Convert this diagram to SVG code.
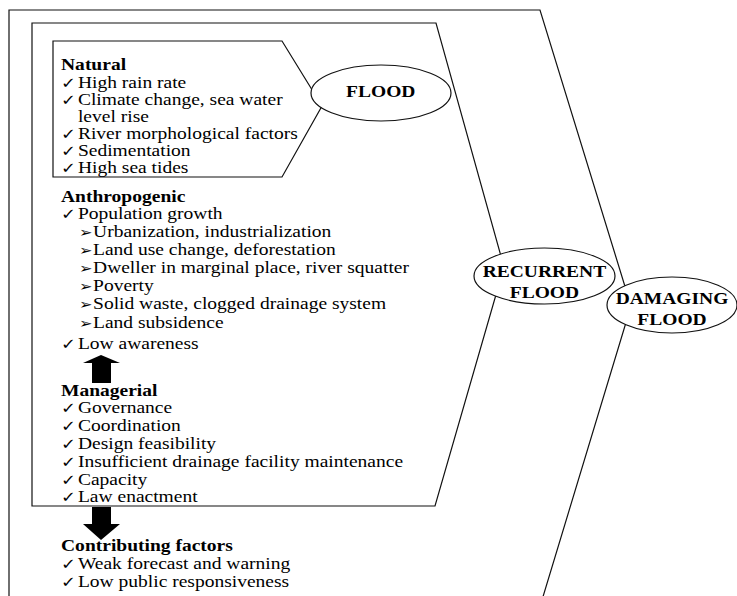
<svg xmlns="http://www.w3.org/2000/svg" width="737" height="596" viewBox="0 0 737 596">
<style>
.ln{fill:none;stroke:#111;stroke-width:1.2}
.el{fill:#fff;stroke:#111;stroke-width:1.2}
text{font-family:"Liberation Serif","Times New Roman",serif;font-size:16.4px;fill:#000}
.b{font-weight:bold}
.ck{font-family:"DejaVu Sans",sans-serif;font-size:15px}
.ar{font-family:"DejaVu Sans",sans-serif;font-size:13.5px}
.c{text-anchor:middle;font-weight:bold}
</style>
<rect width="737" height="596" fill="#fff"/>
<g id="connectors">
  <polyline id="outer" class="ln" points="9,600 9,10 540,10 631,306 542,600"/>
  <polygon id="inner" class="ln" points="32,23 436,23 504,267 435,506 32,506"/>
  <polygon id="natural-box" class="ln" fill="#fff" points="53,41 282,41 322,106 282,177 53,177"/>
  <polygon id="arrow-up" fill="#000" points="101,355 120,363 111,363 111,383 92,383 92,363 83,363"/>
  <polygon id="arrow-down" fill="#000" points="92,507 111,507 111,524 120,524 101,540 83,524 92,524"/>
</g>
<g id="flood">
  <ellipse class="el" cx="381" cy="93" rx="70" ry="28"/>
  <g transform="scale(1.19 1)"><text class="c" x="320" y="97">FLOOD</text></g>
</g>
<g id="recurrent-flood">
  <ellipse class="el" cx="544.5" cy="276" rx="70.5" ry="28"/>
  <g transform="scale(1.19 1)"><text class="c" x="457.5" y="277">RECURRENT</text><text class="c" x="457.5" y="298">FLOOD</text></g>
</g>
<g id="damaging-flood">
  <ellipse class="el" cx="672" cy="305" rx="65" ry="28"/>
  <g transform="scale(1.19 1)"><text class="c" x="564.7" y="304">DAMAGING</text><text class="c" x="564.7" y="325">FLOOD</text></g>
</g>
<g id="natural" transform="scale(1.19 1)">
  <text class="b" x="51.3" y="70">Natural</text>
  <text class="ck" x="51.3" y="88">✓</text><text x="65.5" y="88">High rain rate</text>
  <text class="ck" x="51.3" y="105">✓</text><text x="65.5" y="105">Climate change, sea water</text>
  <text x="65.5" y="122">level rise</text>
  <text class="ck" x="51.3" y="139">✓</text><text x="65.5" y="139">River morphological factors</text>
  <text class="ck" x="51.3" y="156">✓</text><text x="65.5" y="156">Sedimentation</text>
  <text class="ck" x="51.3" y="173">✓</text><text x="65.5" y="173">High sea tides</text>
</g>
<g id="anthropogenic" transform="scale(1.19 1)">
  <text class="b" x="51.3" y="202">Anthropogenic</text>
  <text class="ck" x="51.3" y="219">✓</text><text x="65.5" y="219">Population growth</text>
  <text class="ar" x="66.4" y="237">➢</text><text x="78.2" y="237">Urbanization, industrialization</text>
  <text class="ar" x="66.4" y="255">➢</text><text x="78.2" y="255">Land use change, deforestation</text>
  <text class="ar" x="66.4" y="273">➢</text><text x="78.2" y="273">Dweller in marginal place, river squatter</text>
  <text class="ar" x="66.4" y="291">➢</text><text x="78.2" y="291">Poverty</text>
  <text class="ar" x="66.4" y="309">➢</text><text x="78.2" y="309">Solid waste, clogged drainage system</text>
  <text class="ar" x="66.4" y="328">➢</text><text x="78.2" y="328">Land subsidence</text>
  <text class="ck" x="51.3" y="349">✓</text><text x="65.5" y="349">Low awareness</text>
</g>
<g id="managerial" transform="scale(1.19 1)">
  <text class="b" x="51.3" y="396">Managerial</text>
  <text class="ck" x="51.3" y="413">✓</text><text x="65.5" y="413">Governance</text>
  <text class="ck" x="51.3" y="431">✓</text><text x="65.5" y="431">Coordination</text>
  <text class="ck" x="51.3" y="449">✓</text><text x="65.5" y="449">Design feasibility</text>
  <text class="ck" x="51.3" y="467">✓</text><text x="65.5" y="467">Insufficient drainage facility maintenance</text>
  <text class="ck" x="51.3" y="485">✓</text><text x="65.5" y="485">Capacity</text>
  <text class="ck" x="51.3" y="502">✓</text><text x="65.5" y="502">Law enactment</text>
</g>
<g id="contributing" transform="scale(1.19 1)">
  <text class="b" x="51.3" y="551">Contributing factors</text>
  <text class="ck" x="51.3" y="569">✓</text><text x="65.5" y="569">Weak forecast and warning</text>
  <text class="ck" x="51.3" y="587">✓</text><text x="65.5" y="587">Low public responsiveness</text>
</g>
</svg>
